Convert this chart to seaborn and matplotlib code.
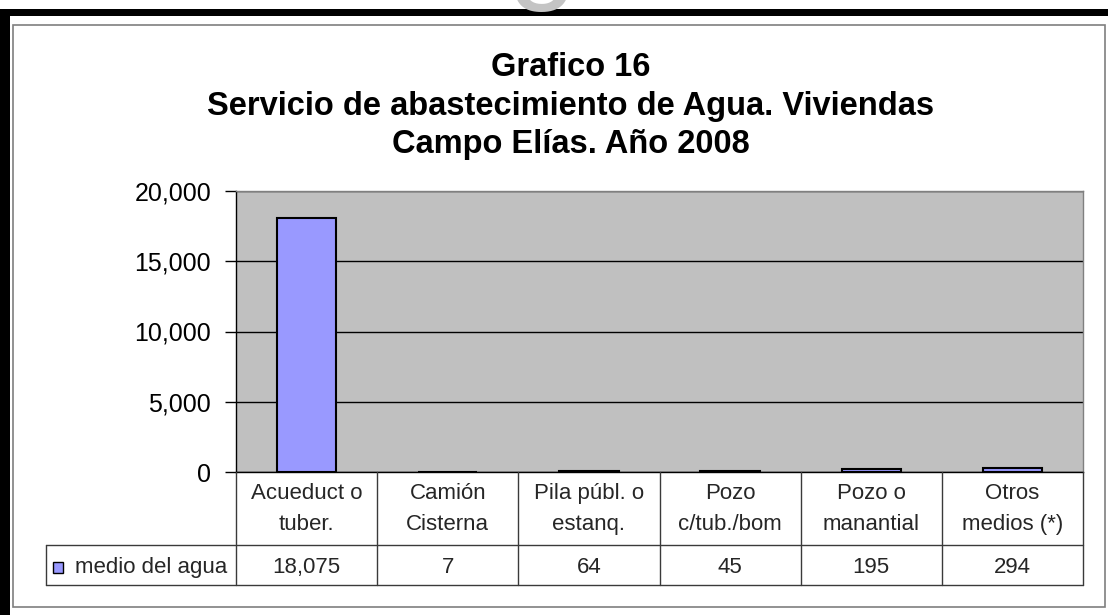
import matplotlib
matplotlib.use('Agg')
import matplotlib.pyplot as plt
import seaborn as sns
import pandas as pd
from matplotlib.lines import Line2D
from matplotlib.patches import Rectangle
from matplotlib.ticker import FuncFormatter
from matplotlib.transforms import blended_transform_factory

# Data
categorias = ['Acueduct o\ntuber.', 'Camión\nCisterna', 'Pila públ. o\nestanq.',
              'Pozo\nc/tub./bom', 'Pozo o\nmanantial', 'Otros\nmedios (*)']
viviendas = [18075, 7, 64, 45, 195, 294]
serie = 'medio del agua'
titulo = ['Grafico 16',
          'Servicio de abastecimiento de Agua. Viviendas',
          'Campo Elías. Año 2008']
y_ticks = [0, 5000, 10000, 15000, 20000]

df = pd.DataFrame({'medio': categorias, 'viviendas': viviendas})

sns.set_theme(style='white')
plt.rcParams['font.family'] = ['Liberation Sans', 'DejaVu Sans']

W, H = 1108, 615
fig = plt.figure(figsize=(W / 100, H / 100), dpi=100)
fig.patch.set_facecolor('white')


def fx(px):
    return px / W


def fy(py):
    return 1 - py / H


# outer frame: thick black bars + thin gray chart border (behind the axes)
fig.add_artist(Rectangle((0, 0), fx(10), fy(9),
                         transform=fig.transFigure, color='black', lw=0, zorder=-2))
fig.add_artist(Rectangle((0, fy(16)), 1, fy(9) - fy(16),
                         transform=fig.transFigure, color='black', lw=0, zorder=-2))
fig.add_artist(Rectangle((fx(13), fy(607)), fx(1105) - fx(13), fy(25) - fy(607),
                         transform=fig.transFigure, facecolor='white',
                         edgecolor='#7f7f7f', lw=1.2, zorder=-1))
# cut watermark letter at top
fig.text(0.490, 1 + 14 / H, 'g', color='#c4c4c4', fontsize=90, ha='center', va='baseline')

# title lines
for txt, base in zip(titulo, [76, 115, 153]):
    fig.text(fx(571), fy(base), txt, ha='center', va='baseline',
             fontsize=23.5, fontweight='bold', color='black')

ax = fig.add_axes([fx(236), fy(472), fx(1083) - fx(236), fy(191) - fy(472)])
sns.barplot(data=df, x='medio', y='viviendas', color='#9999FF', saturation=1,
            edgecolor='black', linewidth=1.5, width=0.42, ax=ax)
ax.set_facecolor('#C0C0C0')
ax.set_xlim(-0.5, len(categorias) - 0.5)
ax.set_ylim(0, 20000)
ax.set_yticks(y_ticks)
ax.yaxis.set_major_formatter(FuncFormatter(lambda v, p: f'{v:,.0f}'))
ax.yaxis.grid(True, color='black', lw=1)
ax.set_axisbelow(True)
ax.set_xticks([])
ax.set_xlabel('')
ax.set_ylabel('')
ax.tick_params(axis='y', left=True, direction='out', length=8, width=1,
               color='black', labelsize=18, pad=10, labelcolor='black')
for s in ['top', 'right']:
    ax.spines[s].set_color('#808080')
    ax.spines[s].set_linewidth(1)
for s in ['left', 'bottom']:
    ax.spines[s].set_color('black')
    ax.spines[s].set_linewidth(1)

# data table under the axis
tr = blended_transform_factory(ax.transData, fig.transFigure)
line_kw = dict(color='#3a3a3a', lw=1)
for i in range(len(categorias) + 1):
    fig.add_artist(Line2D([i - 0.5, i - 0.5], [fy(472), fy(585)], transform=tr, **line_kw))
for yy in [545, 585]:
    fig.add_artist(Line2D([fx(46), fx(1083)], [fy(yy), fy(yy)],
                          transform=fig.transFigure, **line_kw))
fig.add_artist(Line2D([fx(46), fx(46)], [fy(545), fy(585)],
                      transform=fig.transFigure, **line_kw))

for i, (cat, val) in enumerate(zip(categorias, viviendas)):
    l1, l2 = cat.split('\n')
    fig.text(i, fy(499), l1, transform=tr, ha='center', va='baseline', fontsize=16)
    fig.text(i, fy(530), l2, transform=tr, ha='center', va='baseline', fontsize=16)
    fig.text(i, fy(573), f'{val:,}', transform=tr, ha='center', va='baseline', fontsize=16)

fig.add_artist(Rectangle((fx(53), fy(573)), fx(10), fy(562) - fy(573),
                         transform=fig.transFigure, facecolor='#9999FF',
                         edgecolor='black', lw=1))
fig.text(fx(75), fy(573), serie, ha='left', va='baseline', fontsize=16)

fig.savefig('out.png', dpi=100)
